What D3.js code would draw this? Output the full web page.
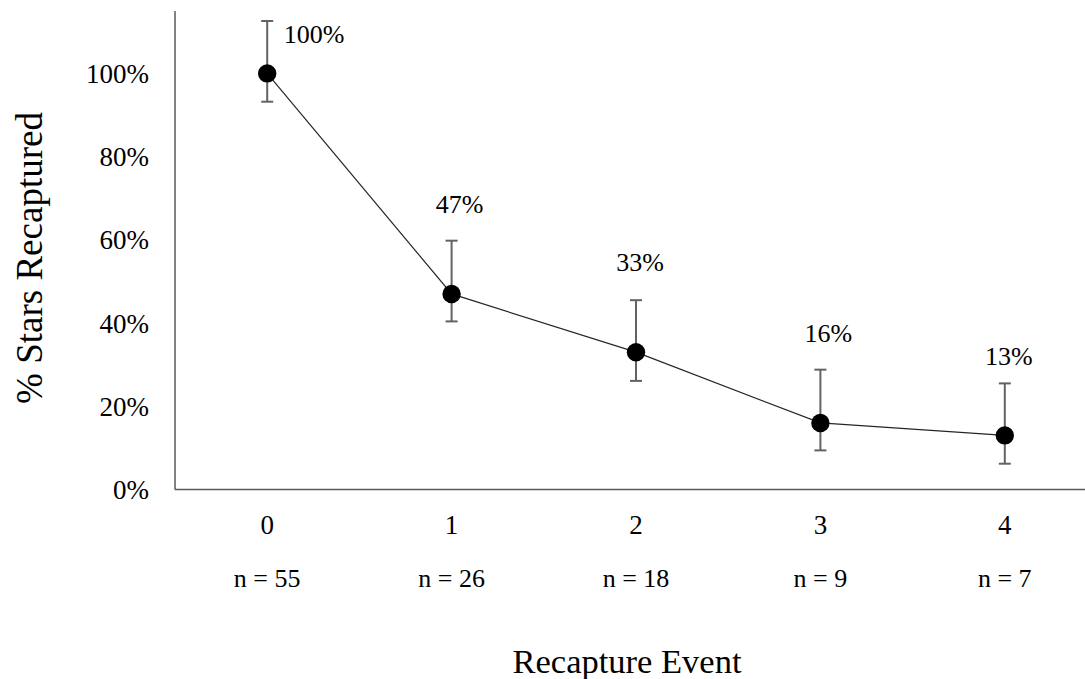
<!DOCTYPE html>
<html>
<head>
<meta charset="utf-8">
<script src="https://cdn.jsdelivr.net/npm/d3@7"></script>
</head>
<body style="margin:0">
<div id="chart"></div>
<script>
const events = ["0", "1", "2", "3", "4"];
const sampleSizes = ["n = 55", "n = 26", "n = 18", "n = 9", "n = 7"];
const pctRecaptured = [100, 47, 33, 16, 13];
const pctLabels = ["100%", "47%", "33%", "16%", "13%"];
const errUp = [12.6, 12.8, 12.5, 12.8, 12.5];
const errDown = [6.8, 6.6, 6.9, 6.6, 6.8];
const yTicks = [0, 20, 40, 60, 80, 100];

const w = 1085;
const h = 679;

const svg = d3
  .select("#chart")
  .append("svg")
  .attr("width", w)
  .attr("height", h)
  .attr("font-family", "Liberation Serif");

const x = d3.scaleBand(events, [175, 1097]);
const y = d3.scaleLinear([0, 115], [489.5, 11]);
const cx = (i) => x(events[i]) + x.bandwidth() / 2;

// axes
svg
  .append("line")
  .attr("x1", 175).attr("x2", 175)
  .attr("y1", y(115)).attr("y2", y(0))
  .attr("stroke", "#595959")
  .attr("stroke-width", 1.5);

svg
  .append("line")
  .attr("x1", 175).attr("x2", 1097)
  .attr("y1", y(0)).attr("y2", y(0))
  .attr("stroke", "#595959")
  .attr("stroke-width", 1.5);

svg
  .selectAll(".ytick")
  .data(yTicks)
  .enter()
  .append("text")
  .attr("class", "ytick")
  .attr("x", 149)
  .attr("y", (d) => y(d))
  .attr("dy", "0.35em")
  .attr("text-anchor", "end")
  .style("font-family", "Liberation Serif")
  .style("font-size", "27px")
  .text((d) => d + "%");

svg
  .selectAll(".xtick")
  .data(events)
  .enter()
  .append("text")
  .attr("class", "xtick")
  .attr("x", (d, i) => cx(i))
  .attr("y", 534)
  .attr("text-anchor", "middle")
  .style("font-family", "Liberation Serif")
  .style("font-size", "27px")
  .text((d) => d);

svg
  .selectAll(".nlab")
  .data(sampleSizes)
  .enter()
  .append("text")
  .attr("class", "nlab")
  .attr("x", (d, i) => cx(i))
  .attr("y", 587)
  .attr("text-anchor", "middle")
  .style("font-family", "Liberation Serif")
  .style("font-size", "26px")
  .text((d) => d);

svg
  .append("text")
  .attr("x", 627)
  .attr("y", 673)
  .attr("text-anchor", "middle")
  .style("font-family", "Liberation Serif")
  .style("font-size", "34.5px")
  .text("Recapture Event");

svg
  .append("text")
  .attr("transform", "translate(42,258) rotate(-90)")
  .attr("text-anchor", "middle")
  .style("font-family", "Liberation Serif")
  .style("font-size", "37px")
  .text("% Stars Recaptured");

// connecting line
const line = d3
  .line()
  .x((d, i) => cx(i))
  .y((d) => y(d));

svg
  .append("path")
  .datum(pctRecaptured)
  .attr("d", line)
  .attr("fill", "none")
  .attr("stroke", "#262626")
  .attr("stroke-width", 1.2);

// error bars
const eb = svg
  .selectAll(".err")
  .data(pctRecaptured)
  .enter()
  .append("g")
  .attr("class", "err")
  .attr("stroke", "#636363")
  .attr("stroke-width", 2);

eb.append("line")
  .attr("x1", (d, i) => cx(i)).attr("x2", (d, i) => cx(i))
  .attr("y1", (d, i) => y(d + errUp[i]))
  .attr("y2", (d, i) => y(d - errDown[i]));

eb.append("line")
  .attr("x1", (d, i) => cx(i) - 6).attr("x2", (d, i) => cx(i) + 6)
  .attr("y1", (d, i) => y(d + errUp[i]))
  .attr("y2", (d, i) => y(d + errUp[i]));

eb.append("line")
  .attr("x1", (d, i) => cx(i) - 6).attr("x2", (d, i) => cx(i) + 6)
  .attr("y1", (d, i) => y(d - errDown[i]))
  .attr("y2", (d, i) => y(d - errDown[i]));

// points
svg
  .selectAll(".dot")
  .data(pctRecaptured)
  .enter()
  .append("circle")
  .attr("class", "dot")
  .attr("cx", (d, i) => cx(i))
  .attr("cy", (d) => y(d))
  .attr("r", 9.2)
  .attr("fill", "#000");

// value labels: first sits right of its bar, the rest above (last one a bit lower, as in the source)
svg
  .selectAll(".vlab")
  .data(pctLabels)
  .enter()
  .append("text")
  .attr("class", "vlab")
  .attr("x", (d, i) => (i === 0 ? cx(i) + 47 : cx(i) + (i % 2 ? 8 : 4)))
  .attr("y", (d, i) => {
    const v = pctRecaptured[i];
    if (i === 0) return y(v) - 30;
    if (i === 4) return y(v + 17);
    return y(v + 19.5);
  })
  .attr("text-anchor", "middle")
  .style("font-family", "Liberation Serif")
  .style("font-size", "26px")
  .text((d) => d);
</script>
</body>
</html>
